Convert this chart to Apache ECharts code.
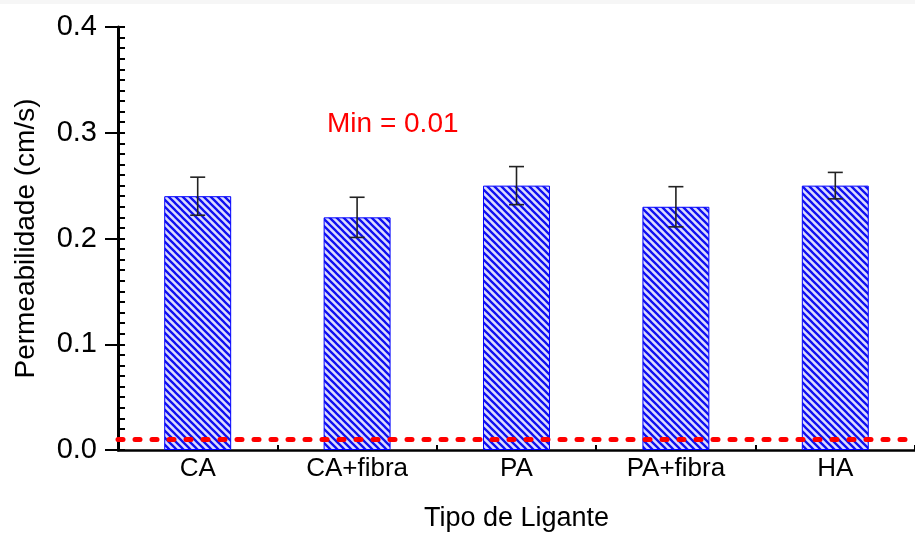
<!DOCTYPE html>
<html>
<head>
<meta charset="utf-8">
<script src="https://cdn.jsdelivr.net/npm/echarts@6/dist/echarts.min.js"></script>
<style>
html,body{margin:0;padding:0;background:#fff;}
#chart{width:915px;height:534px;}
</style>
</head>
<body>
<div id="chart"></div>
<script>
// ---- data ----
const categories = ['CA', 'CA+fibra', 'PA', 'PA+fibra', 'HA'];
const permeability = [0.24, 0.22, 0.25, 0.23, 0.25];
const errors = [0.018, 0.019, 0.018, 0.019, 0.0125];
const minValue = 0.01;
const minLabel = 'Min = 0.01';
const yMin = 0, yMax = 0.4, yStep = 0.1;
const xTitle = 'Tipo de Ligante';
const yTitle = 'Permeabilidade (cm/s)';

// ---- hatch pattern ----
function makeHatch() {
  const s = 7;
  const c = document.createElement('canvas');
  c.width = s; c.height = s;
  const ctx = c.getContext('2d');
  ctx.fillStyle = '#dcdcff';
  ctx.fillRect(0, 0, s, s);
  ctx.strokeStyle = '#1010f0';
  ctx.lineWidth = 2.3;
  ctx.beginPath();
  ctx.moveTo(-s, -s); ctx.lineTo(2 * s, 2 * s);
  ctx.moveTo(-s, 0); ctx.lineTo(s, 2 * s);
  ctx.moveTo(0, -s); ctx.lineTo(2 * s, s);
  ctx.stroke();
  return c;
}

const errData = permeability.map((v, i) => [i, v - errors[i], v + errors[i]]);

const chart = echarts.init(document.getElementById('chart'), null, {renderer: 'canvas'});
const FONT = 'Liberation Sans, Arial, sans-serif';

chart.setOption({
  animation: false,
  backgroundColor: '#ffffff',
  grid: {left: 118, right: 0, top: 27, bottom: 84, containLabel: false, outerBoundsMode: 'none'},
  xAxis: {
    type: 'category',
    data: categories,
    name: xTitle,
    nameLocation: 'middle',
    nameGap: 55,
    nameTextStyle: {fontFamily: FONT, fontSize: 27, color: '#000'},
    axisLine: {show: true, lineStyle: {color: '#000', width: 2.5}},
    axisTick: {show: true, inside: true, length: 5, lineStyle: {color: '#000', width: 2}},
    axisLabel: {fontFamily: FONT, fontSize: 26, color: '#000', margin: 6},
    splitLine: {show: false}
  },
  yAxis: [
    {
      type: 'value', min: yMin, max: yMax, interval: yStep, position: 'left',
      name: yTitle,
      nameLocation: 'middle',
      nameGap: 78,
      nameRotate: 90,
      nameTextStyle: {fontFamily: FONT, fontSize: 28, color: '#000'},
      axisLine: {show: true, lineStyle: {color: '#000', width: 3}},
      axisTick: {show: true, inside: false, length: 13, lineStyle: {color: '#000', width: 2}},
      axisLabel: {fontFamily: FONT, fontSize: 29, color: '#000', margin: 21,
                  formatter: v => v.toFixed(1)},
      splitLine: {show: false}
    },
    {
      type: 'value', min: yMin, max: yMax, interval: yStep, position: 'left', offset: 0,
      axisLine: {show: false},
      axisTick: {show: true, inside: true, length: 7, lineStyle: {color: '#000', width: 2}},
      minorTick: {show: true, splitNumber: 10, length: 7, lineStyle: {color: '#000', width: 2}},
      axisLabel: {show: false},
      splitLine: {show: false}
    }
  ],
  series: [
    {
      type: 'bar',
      data: permeability,
      barWidth: '42%',
      barCategoryGap: '58%',
      itemStyle: {
        color: {image: makeHatch(), repeat: 'repeat'},
        borderColor: '#0000ff',
        borderWidth: 1
      },
      markLine: {
        silent: true,
        symbol: ['none', 'none'],
        label: {show: false},
        lineStyle: {color: '#ff0000', width: 5, type: [5, 12], cap: 'round'},
        data: [{yAxis: minValue}]
      },
      z: 2
    },
    {
      type: 'custom',
      data: errData,
      z: 3,
      renderItem: function (params, api) {
        const x = api.value(0);
        const lo = api.coord([x, api.value(1)]);
        const hi = api.coord([x, api.value(2)]);
        const hw = 7.5;
        const st = {stroke: '#222', lineWidth: 1.6};
        return {
          type: 'group',
          children: [
            {type: 'line', shape: {x1: hi[0], y1: hi[1], x2: lo[0], y2: lo[1]}, style: st},
            {type: 'line', shape: {x1: hi[0] - hw, y1: hi[1], x2: hi[0] + hw, y2: hi[1]}, style: st},
            {type: 'line', shape: {x1: lo[0] - hw, y1: lo[1], x2: lo[0] + hw, y2: lo[1]}, style: st}
          ]
        };
      }
    }
  ],
  graphic: [
    {type: 'rect', left: 0, top: 0, shape: {width: 915, height: 4}, style: {fill: '#f6f6f6'}, silent: true},
    {type: 'text', left: 327, top: 110,
     style: {text: minLabel, fill: '#ff0000', font: '28px Liberation Sans, Arial, sans-serif'}}
  ]
});
</script>
</body>
</html>
